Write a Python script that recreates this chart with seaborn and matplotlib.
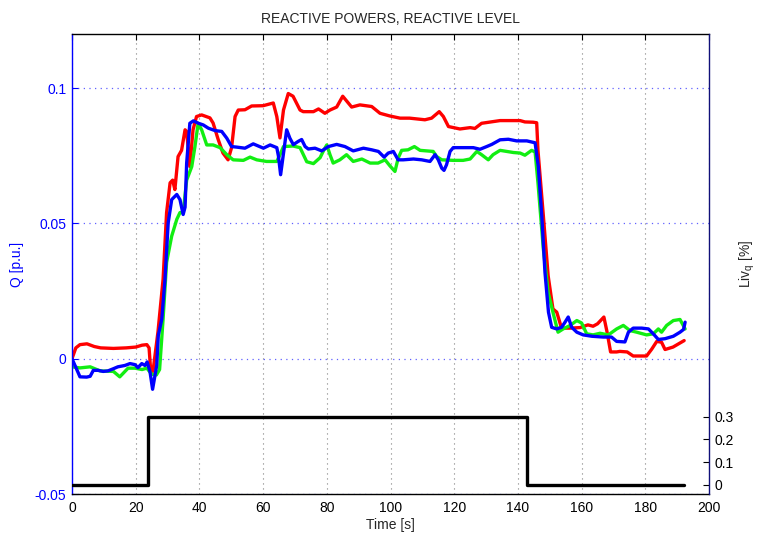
import matplotlib
matplotlib.use("Agg")
import matplotlib.pyplot as plt
import seaborn as sns
import pandas as pd

# Reactive power of the three units [p.u.] versus time [s]
t_red = [0, 1.2, 2.5, 4.7, 7, 9, 13, 17, 20, 22, 23.5, 24.2, 24.8, 25.5, 27, 28.6, 29.7,
         30.8, 31.6, 32.3, 33.3, 34.4, 35.5, 36, 37, 38, 39.1, 40.7, 43.3, 44.3, 45.9,
         47.4, 49, 50.1, 51.2, 52.2, 54.3, 56.4, 60, 63.2, 64.3, 65.3, 66.4, 67.9, 69.4,
         71.6, 72.6, 75.8, 77.4, 79.4, 81, 83.1, 85, 87.8, 90.4, 94.1, 96.7, 99.8, 103,
         106, 110.8, 112.9, 115.3, 116.6, 118.2, 121.8, 125, 126.5, 128.6, 134.4, 140.7,
         142.2, 144.8, 145.9, 146.3, 148, 149.5, 151, 152.2, 153.7, 156.4, 159.5, 162,
         163.6, 165, 167, 168, 169.1, 171, 172, 174.3, 176.2, 180.4, 182, 183.6, 185.1,
         186.2, 188.7, 192.2]
q_red = [0.0, 0.004, 0.0052, 0.0055, 0.0045, 0.004, 0.0038, 0.004, 0.0043, 0.005, 0.0052,
         0.004, -0.006, -0.004, 0.01, 0.0294, 0.054, 0.065, 0.066, 0.0625, 0.0747, 0.077,
         0.0846, 0.084, 0.071, 0.0846, 0.0895, 0.0901, 0.089, 0.0871, 0.081, 0.076, 0.0735,
         0.078, 0.0895, 0.0919, 0.092, 0.0934, 0.0935, 0.0945, 0.0895, 0.0816, 0.0919,
         0.098, 0.097, 0.0919, 0.0913, 0.0913, 0.0923, 0.0907, 0.0919, 0.093, 0.097, 0.093,
         0.0938, 0.0932, 0.0907, 0.0897, 0.0889, 0.0889, 0.0883, 0.0889, 0.0913, 0.0895,
         0.0858, 0.0849, 0.0854, 0.0851, 0.087, 0.088, 0.088, 0.0875, 0.0874, 0.0872,
         0.077, 0.0527, 0.0306, 0.0184, 0.0172, 0.0113, 0.0113, 0.0115, 0.0125, 0.012,
         0.0129, 0.0154, 0.0098, 0.0025, 0.0025, 0.0027, 0.0025, 0.001, 0.001, 0.0035,
         0.0064, 0.0061, 0.0034, 0.0043, 0.0067]

t_green = [0, 2.5, 5.7, 8.8, 13, 15, 17.6, 19.8, 22, 23.5, 25, 26.5, 27.5, 28.6, 29.7, 31.3,
           32.9, 33.9, 34.9, 36, 37.6, 38.6, 39.6, 40.7, 42.3, 44.3, 46.5, 48.6, 50.6,
           53.8, 55.9, 58, 61.1, 64.3, 65.3, 66.4, 69.4, 71.6, 73.7, 75.8, 77.9, 79.1, 80,
           81, 82, 84.1, 86.2, 88.3, 91, 93.6, 96.1, 98.3, 99.8, 101.4, 102.4, 103.5,
           105.5, 107.5, 109.3, 113.4, 114.5, 116.1, 119.7, 122.8, 125, 127.1, 128.6,
           130.7, 132.2, 134.4, 138.6, 140.7, 142.2, 144.3, 145.4, 146.3, 148, 149.5, 151,
           152.6, 154.2, 156.4, 158.5, 160, 161.6, 163.6, 165.8, 168.4, 171, 173.1, 175.2,
           177.3, 180.4, 182.5, 184.1, 185.1, 186.7, 188.8, 190.9, 192.5]
q_green = [-0.003, -0.0034, -0.003, -0.0045, -0.0047, -0.0067, -0.0035, -0.0035, -0.004,
           -0.0035, -0.0057, -0.006, -0.004, 0.0147, 0.0356, 0.0453, 0.0515, 0.054, 0.054,
           0.066, 0.071, 0.0784, 0.087, 0.0846, 0.079, 0.079, 0.078, 0.0754, 0.0735,
           0.0733, 0.0745, 0.0735, 0.0729, 0.0729, 0.0754, 0.0784, 0.0786, 0.078, 0.0728,
           0.0721, 0.0743, 0.0772, 0.079, 0.0754, 0.0723, 0.0735, 0.0754, 0.0729, 0.0738,
           0.0723, 0.0723, 0.0735, 0.0713, 0.0692, 0.0741, 0.077, 0.0772, 0.0784, 0.077,
           0.0766, 0.0747, 0.0735, 0.0733, 0.0733, 0.0738, 0.0766, 0.0754, 0.0735, 0.0754,
           0.077, 0.0762, 0.076, 0.0752, 0.077, 0.0764, 0.065, 0.0404, 0.0245, 0.0172,
           0.0098, 0.011, 0.0123, 0.0141, 0.0132, 0.0092, 0.0088, 0.0094, 0.0088, 0.011,
           0.0123, 0.0104, 0.0098, 0.0088, 0.0092, 0.011, 0.0098, 0.0123, 0.0141, 0.0145,
           0.011]

t_blue = [0, 1.5, 2.5, 4.6, 5.7, 6.7, 8.2, 9.8, 11.3, 13, 14.4, 16.6, 18.2, 19.8, 20.7, 21.9,
          22.9, 23.6, 24.5, 25.3, 26.6, 27.1, 28.2, 29.2, 30.2, 31.3, 32.9, 33.9, 34.9,
          35.5, 36, 37, 38.1, 39.7, 41.2, 42.8, 44.9, 47, 48.6, 50.1, 51.7, 54.3, 56.9,
          60.1, 62.2, 64.3, 64.8, 65.5, 66.3, 67.4, 68.4, 69.5, 71, 72.1, 73.2, 74.2, 76.3,
          78.4, 80.5, 83.1, 85.7, 88.3, 91.5, 94.1, 96.2, 98, 99.3, 100.9, 102.4, 104,
          107.2, 109.8, 112.4, 114, 115, 116.1, 116.8, 117.6, 118.7, 119.7, 122.9, 126,
          128.1, 130.2, 131.8, 134.4, 137, 139.6, 142.8, 145.4, 146.4, 147.5, 148.5, 149.6,
          150.6, 152.2, 153.7, 154.8, 155.8, 156.9, 158.5, 160.5, 163.2, 166.8, 169.4, 171,
          173.6, 174.7, 176.2, 178.9, 181, 182.5, 184.1, 186.2, 188.8, 190.9, 192, 192.5]
q_blue = [0.0, -0.004, -0.0067, -0.0068, -0.0065, -0.0043, -0.0043, -0.0047, -0.0045,
          -0.0037, -0.003, -0.0025, -0.0018, -0.0022, -0.0033, -0.0018, -0.0025, -0.0012,
          -0.0049, -0.0113, -0.0025, 0.0086, 0.0147, 0.0294, 0.0502, 0.0588, 0.0607, 0.0588,
          0.0533, 0.056, 0.0723, 0.087, 0.0879, 0.087, 0.0864, 0.0852, 0.0843, 0.084,
          0.0815, 0.0784, 0.0782, 0.0778, 0.0794, 0.0778, 0.079, 0.078, 0.075, 0.068, 0.075,
          0.0846, 0.0815, 0.0791, 0.0803, 0.081, 0.0784, 0.0775, 0.0778, 0.0768, 0.0784,
          0.0792, 0.0784, 0.0768, 0.0778, 0.0772, 0.0766, 0.0745, 0.076, 0.0766, 0.0735,
          0.0735, 0.0738, 0.0735, 0.0729, 0.0754, 0.0735, 0.0704, 0.0696, 0.0717, 0.0766,
          0.078, 0.078, 0.078, 0.0774, 0.0784, 0.0792, 0.0809, 0.0811, 0.0805, 0.0805,
          0.0798, 0.0711, 0.0527, 0.0319, 0.0172, 0.0116, 0.011, 0.0116, 0.0135, 0.0154,
          0.0116, 0.0098, 0.0088, 0.0083, 0.008, 0.008, 0.0064, 0.0062, 0.0098, 0.0113,
          0.0113, 0.011, 0.0092, 0.0071, 0.0074, 0.0083, 0.0098, 0.0108, 0.0135]

# Reactive level command [%] (step signal)
t_level = [0, 24, 143, 192]
v_level = [0.0, 0.3, 0.0, 0.0]

x_ticks = [0, 20, 40, 60, 80, 100, 120, 140, 160, 180, 200]
q_ticks = [-0.05, 0, 0.05, 0.1]
q_tick_labels = ["-0.05", "0", "0.05", "0.1"]
liv_ticks = [0, 0.1, 0.2, 0.3]
liv_tick_labels = ["0", "0.1", "0.2", "0.3"]

sns.set_style("white")
plt.rcParams["font.family"] = ["Liberation Sans", "DejaVu Sans"]
plt.rcParams["mathtext.fontset"] = "custom"
plt.rcParams["mathtext.rm"] = "Liberation Sans"
plt.rcParams["mathtext.it"] = "Liberation Sans"

fig = plt.figure(figsize=(7.6, 5.36), dpi=100)
ax = fig.add_axes([72 / 760, 1 - 494 / 536, (709 - 72) / 760, (494 - 34) / 536])

series = [(t_red, q_red, "#ff0000"), (t_green, q_green, "#12ee12"), (t_blue, q_blue, "#0000ff")]
for t, q, c in series:
    df = pd.DataFrame({"t": t, "q": q})
    sns.lineplot(data=df, x="t", y="q", ax=ax, color=c, lw=2.4, estimator=None, sort=False)

ax.set_xlim(0, 200)
ax.set_ylim(-0.05, 0.12)
ax.set_xticks(x_ticks)
ax.set_xticklabels([str(v) for v in x_ticks], fontsize=10)
ax.set_yticks(q_ticks)
ax.set_yticklabels(q_tick_labels, fontsize=10, color="#0000ff")
ax.xaxis.grid(True, linestyle=(0, (1, 3.5)), color="#808080", lw=0.8)
ax.yaxis.grid(True, linestyle=(0, (1, 3.5)), color="#6060ff", lw=0.9)
ax.tick_params(axis="x", direction="in", top=True, length=4, width=0.8, colors="black", pad=5)
ax.tick_params(axis="y", direction="in", right=True, length=4, width=0.8, colors="#0000ff", pad=4)
ax.set_xlabel("Time [s]", fontsize=10, labelpad=2)
ax.set_ylabel("Q [p.u.]", fontsize=10, color="#0000ff", labelpad=8)
ax.set_title("REACTIVE POWERS, REACTIVE LEVEL", fontsize=10, pad=8)
for side in ("top", "bottom"):
    ax.spines[side].set_color("black")
    ax.spines[side].set_linewidth(1.0)
ax.spines["left"].set_color("#0000ff")
ax.spines["left"].set_linewidth(1.0)
ax.spines["right"].set_visible(False)

ax2 = ax.twinx()
lvl = pd.DataFrame({"t": t_level, "v": v_level})
sns.lineplot(data=lvl, x="t", y="v", ax=ax2, color="black", lw=2.4,
             drawstyle="steps-post", estimator=None, sort=False)
ax2.set_ylim(-0.042, 2.0)
ax2.set_yticks(liv_ticks)
ax2.set_yticklabels(liv_tick_labels, fontsize=10)
ax2.tick_params(axis="y", direction="in", length=4, width=0.8, colors="black", pad=4)
ax2.set_ylabel(r"Liv$_\mathrm{q}$ [%]", fontsize=10)
ax2.yaxis.set_label_coords(1.045, 0.5)
for side in ("top", "bottom", "left"):
    ax2.spines[side].set_visible(False)
ax2.spines["right"].set_color("#10107a")
ax2.spines["right"].set_linewidth(1.0)
ax2.set_xlabel("")

fig.savefig("out.png", dpi=100)
